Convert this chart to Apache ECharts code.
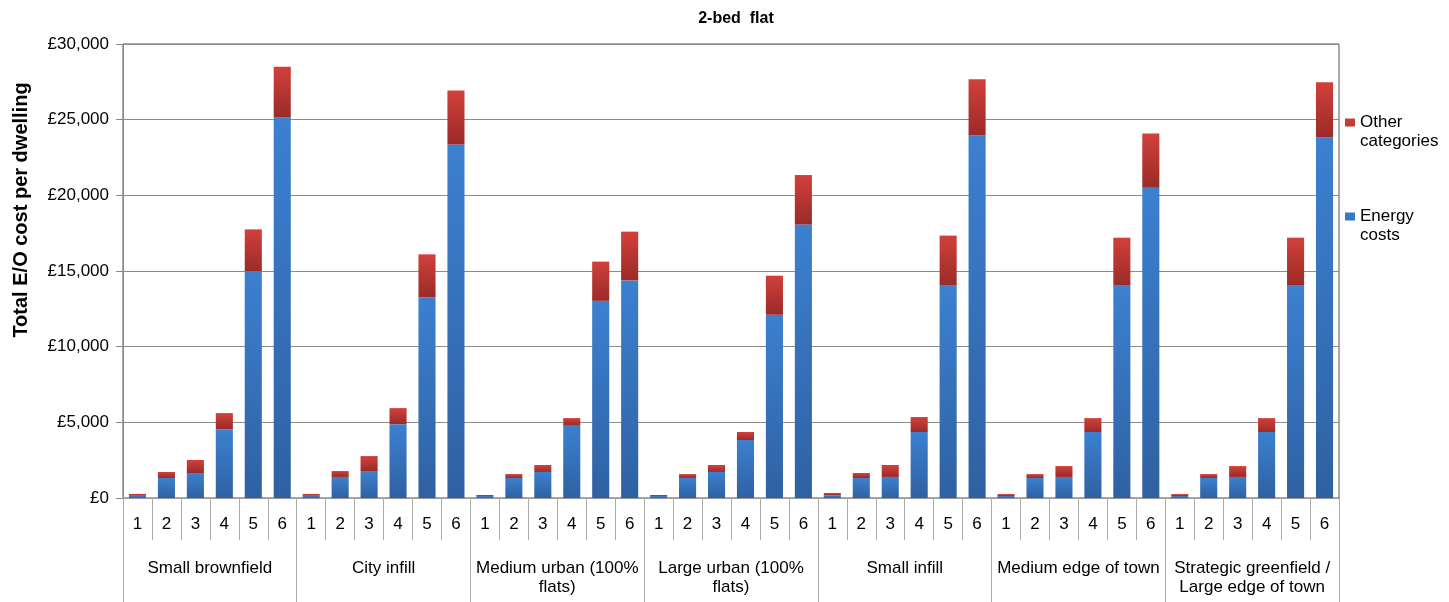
<!DOCTYPE html>
<html>
<head>
<meta charset="utf-8">
<script src="https://cdn.jsdelivr.net/npm/echarts@6/dist/echarts.min.js"></script>
<style>
html,body{margin:0;padding:0;background:#fff;}
#chart{width:1449px;height:602px;}
</style>
</head>
<body>
<div id="chart"></div>
<script>
// ---- data ----
var groups = ['Small brownfield', 'City infill', 'Medium urban (100%\nflats)', 'Large urban (100%\nflats)', 'Small infill', 'Medium edge of town', 'Strategic greenfield /\nLarge edge of town'];
var scenarios = ['1', '2', '3', '4', '5', '6'];
var yTicks = [0, 5000, 10000, 15000, 20000, 25000, 30000];

// Energy costs per group (scenarios 1-6)
var energySmallBrownfield = [150, 1320, 1650, 4550, 15000, 25150];
var energyCityInfill      = [150, 1390, 1780, 4880, 13270, 23360];
var energyMediumUrban     = [130, 1320, 1720, 4820, 13030, 14380];
var energyLargeUrban      = [130, 1320, 1720, 3830, 12110, 18070];
var energySmallInfill     = [180, 1320, 1390, 4360, 14030, 23960];
var energyMediumEdge      = [130, 1320, 1390, 4360, 14030, 20500];
var energyStrategic       = [130, 1320, 1390, 4360, 14030, 23830];

// Other categories per group (scenarios 1-6)
var otherSmallBrownfield = [120, 400, 860, 1060, 2750, 3350];
var otherCityInfill      = [120, 390, 990, 1060, 2830, 3570];
var otherMediumUrban     = [70, 260, 460, 460, 2590, 3220];
var otherLargeUrban      = [70, 260, 460, 530, 2580, 3270];
var otherSmallInfill     = [150, 330, 790, 990, 3310, 3710];
var otherMediumEdge      = [130, 260, 720, 920, 3170, 3590];
var otherStrategic       = [130, 260, 720, 920, 3170, 3640];

var energyByGroup = [energySmallBrownfield, energyCityInfill, energyMediumUrban, energyLargeUrban, energySmallInfill, energyMediumEdge, energyStrategic];
var otherByGroup = [otherSmallBrownfield, otherCityInfill, otherMediumUrban, otherLargeUrban, otherSmallInfill, otherMediumEdge, otherStrategic];

// ---- build flat arrays ----
var cats = [], energy = [], other = [];
groups.forEach(function (g, gi) {
  scenarios.forEach(function (s, si) {
    cats.push(s);
    energy.push(energyByGroup[gi][si]);
    other.push(otherByGroup[gi][si]);
  });
});

function money(v) {
  return '\u00a3' + String(v).replace(/\B(?=(\d{3})+(?!\d))/g, ',');
}

var FONT = 'Liberation Sans, Arial, sans-serif';
var chart = echarts.init(document.getElementById('chart'), null, {renderer: 'canvas'});

var blueGrad = new echarts.graphic.LinearGradient(0, 0, 0, 1, [
  {offset: 0, color: '#3C80D0'}, {offset: 1, color: '#2F61A2'}
]);
var redGrad = new echarts.graphic.LinearGradient(0, 0, 0, 1, [
  {offset: 0, color: '#D2403B'}, {offset: 1, color: '#9A2B28'}
]);
// legend marker: small square placed beside the first text line
var legendIcon = 'path://M0,0M10,38M0,5.5H10V13.5H0Z';

chart.setOption({
  backgroundColor: '#ffffff',
  animation: false,
  title: {
    text: '2-bed  flat',
    left: 731,
    textAlign: 'center',
    top: 6,
    textStyle: {fontFamily: FONT, fontWeight: 'bold', fontSize: 16, color: '#000'}
  },
  legend: {
    orient: 'vertical',
    left: 1345,
    top: 113,
    padding: 0,
    itemWidth: 10,
    itemHeight: 38,
    itemGap: 56,
    icon: legendIcon,
    data: ['Other categories', 'Energy costs'],
    formatter: function (n) { return n.replace(' ', '\n'); },
    textStyle: {fontFamily: FONT, fontSize: 17, color: '#000', lineHeight: 19}
  },
  grid: {
    left: 123, right: 110, top: 44, bottom: 104,
    show: true, borderColor: '#555', borderWidth: 1, backgroundColor: 'transparent'
  },
  xAxis: [
    {
      type: 'category',
      data: cats,
      position: 'bottom',
      axisLine: {show: true, lineStyle: {color: '#999', width: 1}},
      axisTick: {show: true, interval: 0, length: 42, lineStyle: {color: '#aaa'}},
      axisLabel: {interval: 0, margin: 18, fontFamily: FONT, fontSize: 17, color: '#000'},
      splitLine: {show: false}
    },
    {
      type: 'category',
      data: groups,
      position: 'bottom',
      axisLine: {show: false},
      axisTick: {show: true, interval: 0, length: 110, lineStyle: {color: '#aaa'}},
      axisLabel: {interval: 0, margin: 61, fontFamily: FONT, fontSize: 17, color: '#000', lineHeight: 19},
      splitLine: {show: false}
    }
  ],
  yAxis: {
    type: 'value',
    min: yTicks[0],
    max: yTicks[yTicks.length - 1],
    interval: 5000,
    name: 'Total E/O cost per dwelling',
    nameLocation: 'middle',
    nameRotate: 90,
    nameGap: 92,
    nameTextStyle: {fontFamily: FONT, fontWeight: 'bold', fontSize: 20, color: '#000', padding: [0, 0, 0, 122]},
    axisLine: {show: true, lineStyle: {color: '#888', width: 1}},
    axisTick: {show: true, length: 7, lineStyle: {color: '#888'}},
    axisLabel: {margin: 14, fontFamily: FONT, fontSize: 17, color: '#000', formatter: money},
    splitLine: {show: true, lineStyle: {color: '#8c8c8c', width: 1}}
  },
  series: [
    {
      name: 'Energy costs',
      type: 'bar',
      stack: 'total',
      xAxisIndex: 0,
      barWidth: '59%',
      itemStyle: {color: blueGrad},
      data: energy
    },
    {
      name: 'Other categories',
      type: 'bar',
      stack: 'total',
      xAxisIndex: 0,
      barWidth: '59%',
      itemStyle: {color: redGrad},
      data: other
    }
  ]
});
</script>
</body>
</html>
